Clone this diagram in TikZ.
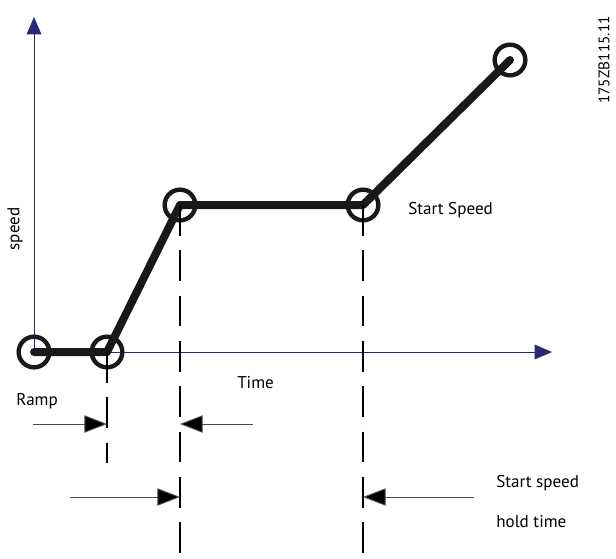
\documentclass[tikz,border=0pt]{standalone}
\usepackage{fontspec}
\setmainfont{PT Sans}
\usetikzlibrary{arrows.meta, positioning, calc}
\definecolor{cAxis}{RGB}{40,40,120}
\definecolor{cLine}{RGB}{25,25,25}
\tikzset{
	axisline/.style={draw=cAxis, line width=0.6pt, -{Triangle[length=13pt, width=11pt, fill=cAxis]}},
	curve/.style={draw=cLine, line width=6pt, line join=round, line cap=round},
	pointmark/.style={circle, draw=cLine, line width=3.3pt, minimum size=23pt, inner sep=0pt},
	markline/.style={draw=black, line width=2.1pt, dash pattern=on 23pt off 11pt},
	dimarrow/.style={draw=black!70, line width=0.7pt, -{Triangle[length=17pt, width=13pt, fill=black]}},
	lbl/.style={font=\fontsize{12.8}{15}\selectfont, anchor=west, inner sep=0pt},
}
\begin{document}
\begin{tikzpicture}[x=0.75pt, y=-0.75pt]
	\useasboundingbox (0,0) rectangle (616,558);
	% axes
	\coordinate (o) at (34,352);
	\coordinate (ytip) at (34,17);
	\coordinate (xtip) at (552,352);
	\draw[axisline] (o) -- (ytip);
	\draw[axisline] (o) -- (xtip);
	% speed profile
	\node[pointmark] (p0) at (34,352) {};
	\node[pointmark] (p1) at (107,352) {};
	\node[pointmark] (p2) at (180,205) {};
	\node[pointmark] (p3) at (363,205) {};
	\node[pointmark] (p4) at (510,60) {};
	\draw[curve] (p0.center) -- (p1.center) -- (p2.center) -- (p3.center) -- (p4.center);
	% dashed markers
	\coordinate (d1) at (107,463);
	\coordinate (d2) at (180,558);
	\coordinate (d3) at (363,558);
	\draw[markline] (p1.center) -- (d1);
	\draw[markline] (p2.center) -- (d2);
	\draw[markline] (p3.center) -- (d3);
	% dimension arrows
	\coordinate (ra) at (33,424);
	\coordinate (rb) at (253,424);
	\coordinate (ha) at (70,497);
	\coordinate (hb) at (474,497);
	\draw[dimarrow] (ra) -- (p1.center |- ra);
	\draw[dimarrow] (rb) -- (p2.center |- rb);
	\draw[dimarrow] (ha) -- (p2.center |- ha);
	\draw[dimarrow] (hb) -- (p3.center |- hb);
	% labels
	\node[lbl, rotate=90, anchor=center] (speed) at (15,229) {speed};
	\node[lbl] (startspeed) at (408,210) {Start Speed};
	\node[lbl] (time) at (237,383) {Time};
	\node[lbl] (ramp) at (16,401) {Ramp};
	\node[lbl] (sshold1) at (496,483) {Start speed};
	\node[lbl] (sshold2) at (496,522) {hold time};
	\node[lbl, font=\fontsize{11.5}{13}\selectfont, rotate=90, anchor=center] (code) at (604,60) {175ZB115.11};
\end{tikzpicture}
\end{document}
